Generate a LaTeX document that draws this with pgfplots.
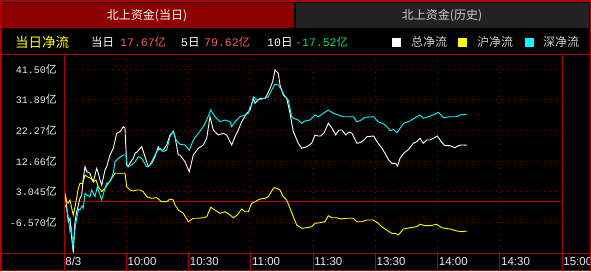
\documentclass[border=0pt]{standalone}
\usepackage{pgfplots}
\usepackage{pgfplotstable}
\pgfplotsset{compat=1.18}
\usepackage{fontspec}
\setmainfont{Liberation Sans}
\newfontfamily\cjk{Noto Sans CJK SC}
\newfontfamily\mono{Liberation Mono}
\definecolor{linered}{RGB}{176,0,0}
\definecolor{zerored}{RGB}{190,0,0}
\definecolor{gridred}{RGB}{150,0,0}
\definecolor{tabred}{RGB}{140,0,0}
\definecolor{tabgrey}{RGB}{34,34,34}
\definecolor{numred}{RGB}{255,90,90}
\definecolor{numgreen}{RGB}{0,230,100}
\definecolor{lgrey}{RGB}{205,205,205}
\definecolor{ylw}{RGB}{255,255,0}
\definecolor{cyn}{RGB}{0,255,255}

% minutes since 9:30 (lunch break removed), value in 100 million
\pgfplotstableread{
m v
0.63 2.04
2.07 -6.33
2.89 -5.26
3.71 -11.44
4.48 -16.0
5.30 -6.33
6.12 -3.20
7.71 1.00
8.53 2.04
9.30 7.27
10.12 10.91
10.94 9.34
12.53 8.84
13.35 7.27
14.12 6.20
15.76 10.40
16.53 8.84
17.35 6.74
18.17 5.17
19.76 9.87
20.58 10.91
22.17 14.57
23.76 16.67
25.40 21.37
26.99 21.87
28.58 23.44
29.40 22.94
30.22 11.44
30.99 10.91
31.81 12.07
33.40 13.54
34.22 15.10
35.18 15.51
37.45 17.17
39.04 14.04
40.63 10.91
42.27 11.97
43.86 14.04
45.45 17.17
46.27 16.14
47.86 16.14
49.49 17.71
51.08 20.84
52.67 21.87
53.49 20.31
55.08 14.57
55.90 14.57
58.31 12.47
60.39 9.34
62.31 14.57
64.72 16.67
67.13 17.71
68.77 19.81
70.36 26.57
71.95 22.41
74.36 20.84
76.77 21.37
78.41 20.84
80.82 17.71
82.41 20.31
84.00 22.41
85.64 25.01
88.05 27.64
89.64 28.67
91.23 32.34
92.05 30.77
94.46 32.34
96.87 32.34
97.83 33.38
99.28 35.47
100.58 37.54
101.69 41.21
103.28 40.18
104.10 36.51
105.69 33.38
107.33 32.34
108.92 27.64
110.51 21.87
112.92 18.24
114.55 16.67
116.96 17.17
119.37 18.24
120.96 20.84
122.41 20.53
123.71 20.53
125.30 21.47
127.37 24.51
129.16 23.03
130.94 20.84
132.53 22.41
133.98 22.41
135.76 20.84
137.35 21.78
138.80 21.37
141.20 18.24
142.65 18.43
144.58 19.27
146.02 20.31
149.25 20.53
150.84 18.74
153.25 16.67
154.70 15.10
156.48 13.01
158.07 11.97
159.66 11.97
160.82 11.13
161.93 13.54
163.71 15.10
166.12 16.36
168.34 18.24
169.98 18.74
171.57 19.81
173.16 18.24
174.80 19.27
176.39 19.27
177.98 19.81
179.90 20.53
182.02 18.55
183.61 17.49
186.02 17.49
188.43 16.86
190.02 17.49
191.66 17.71
194.07 17.67
}\totaltab

\pgfplotstableread{
m v
0.48 2.57
1.30 -0.06
2.07 -0.47
2.89 0.47
3.71 -2.13
4.48 -4.23
5.78 -0.06
6.89 4.14
7.71 5.70
9.01 5.70
10.12 8.30
11.23 7.77
12.87 7.27
14.12 6.20
15.42 6.74
16.53 4.64
18.17 3.07
19.76 4.14
21.35 5.70
22.99 7.27
24.58 8.84
26.99 8.84
29.40 8.84
30.22 4.64
31.81 3.60
33.40 3.29
35.04 3.60
36.63 3.60
38.22 3.07
39.86 1.50
42.27 1.00
44.67 1.19
47.08 -0.06
49.49 -0.06
51.08 0.78
52.67 0.47
53.49 -1.10
55.08 -2.66
57.49 -3.70
59.90 -6.33
62.31 -5.26
64.72 -5.26
67.13 -5.08
68.77 -4.76
70.70 -1.82
72.77 -2.66
75.18 -3.70
77.59 -3.20
80.00 -4.23
81.59 -5.08
83.52 -4.23
85.64 -2.35
87.23 -3.20
88.82 -3.20
90.46 -0.56
92.05 -0.06
94.46 0.78
96.87 1.00
98.46 1.50
100.87 4.14
101.69 4.32
104.10 3.60
105.69 1.50
107.33 0.47
108.92 -2.13
110.51 -4.76
112.15 -7.36
114.55 -8.40
116.96 -8.21
119.37 -7.90
120.96 -6.83
123.37 -6.64
125.78 -6.33
127.37 -4.45
129.01 -5.08
131.42 -5.08
133.83 -5.48
136.24 -5.26
139.42 -5.26
141.06 -6.33
143.47 -6.33
145.88 -5.80
149.06 -5.80
151.47 -6.83
153.11 -7.90
155.52 -8.93
157.93 -9.97
159.52 -9.97
161.11 -10.50
163.52 -8.62
166.75 -8.21
169.98 -7.90
171.57 -7.15
173.98 -7.58
176.39 -7.58
179.61 -7.15
182.02 -8.21
186.02 -8.62
189.25 -9.24
191.66 -9.46
194.07 -9.24
}\shtab

\pgfplotstableread{
m v
0.48 -1.10
1.45 -2.66
2.27 -5.80
2.89 -9.56
3.61 -8.30
4.19 -14.16
5.06 -9.56
6.12 -5.26
7.08 -2.35
7.71 -2.66
8.67 -1.41
9.30 -2.04
10.12 2.57
10.94 2.04
12.53 1.50
13.35 3.60
14.94 1.50
16.05 4.64
17.35 2.04
18.17 0.47
19.76 4.14
20.58 5.70
22.17 6.20
23.76 8.84
24.58 12.47
26.17 13.54
28.58 14.57
29.88 14.57
30.51 10.91
32.63 11.44
34.22 12.47
35.81 14.04
37.45 13.54
38.22 12.69
39.86 10.91
41.45 11.44
43.04 13.54
44.67 15.61
46.27 16.67
47.86 15.61
49.49 16.14
51.08 20.31
52.67 22.09
53.98 19.27
55.90 17.93
58.31 17.71
60.39 16.14
62.31 19.27
64.72 21.37
67.13 23.44
68.77 25.54
70.70 28.67
72.77 26.57
75.18 25.01
77.59 25.54
80.00 25.01
80.82 23.44
82.41 25.01
84.82 26.57
87.23 27.11
88.82 27.64
89.64 29.71
90.46 30.24
91.23 32.84
92.87 31.81
95.28 32.12
96.87 32.34
98.46 32.84
99.28 33.91
100.87 35.98
101.69 36.73
103.28 36.51
104.92 34.94
106.51 32.84
108.10 31.81
108.92 29.21
109.74 26.57
110.51 26.07
112.92 25.54
114.55 24.51
116.14 25.23
118.55 25.54
120.96 27.11
122.55 26.57
124.96 27.64
127.37 28.67
129.78 27.64
132.19 27.11
134.60 26.57
137.01 26.57
139.42 26.57
141.06 25.01
142.65 25.32
145.20 26.39
149.25 26.57
151.33 25.01
154.07 24.29
155.66 23.44
157.25 22.19
158.70 22.63
160.48 21.56
161.93 22.94
163.71 24.51
166.75 25.23
169.98 26.57
171.57 27.11
173.16 26.07
175.57 26.57
177.98 27.11
180.39 27.95
182.80 26.26
186.02 26.57
189.25 26.57
190.84 27.11
194.07 27.33
}\sztab

\begin{document}
\begin{tikzpicture}
\useasboundingbox (0,0) rectangle (591pt,-271pt);
\fill[black] (0,0) rectangle (591pt,-271pt);
% tabs
\fill[tabred] (2pt,-3pt) rectangle (294pt,-28pt);
\fill[tabgrey] (296pt,-3pt) rectangle (589pt,-28pt);
\node[text=white, inner sep=0pt, font=\cjk\fontsize{12}{14}\selectfont] at (147pt,-16pt) {北上资金(当日)};
\node[text=lgrey, inner sep=0pt, font=\cjk\fontsize{12}{14}\selectfont] at (442pt,-16pt) {北上资金(历史)};
% info row
\node[anchor=west, inner sep=0pt, text=ylw, font=\cjk\fontsize{13.5}{15}\selectfont] at (15pt,-42pt) {当日净流};
\node[anchor=west, inner sep=0pt, text=white, font=\cjk\fontsize{11.5}{14}\selectfont] at (91pt,-42pt) {当日};
\node[anchor=west, inner sep=0pt, text=numred] at (120pt,-42pt) {\mono\fontsize{11.5}{14}\selectfont 17.67{\cjk 亿}};
\node[anchor=west, inner sep=0pt, text=white] at (181pt,-42pt) {\mono\fontsize{11.5}{14}\selectfont 5{\cjk 日}};
\node[anchor=west, inner sep=0pt, text=numred] at (204pt,-42pt) {\mono\fontsize{11.5}{14}\selectfont 79.62{\cjk 亿}};
\node[anchor=west, inner sep=0pt, text=white] at (267pt,-42pt) {\mono\fontsize{11.5}{14}\selectfont 10{\cjk 日}};
\node[anchor=west, inner sep=0pt, text=numgreen] at (295pt,-42pt) {\mono\fontsize{11.5}{14}\selectfont -17.52{\cjk 亿}};
\fill[white] (392pt,-37.5pt) rectangle (401pt,-46.5pt);
\fill[ylw] (458pt,-37.5pt) rectangle (467pt,-46.5pt);
\fill[cyn] (525pt,-37.5pt) rectangle (534pt,-46.5pt);
\node[anchor=west, inner sep=0pt, text=lgrey, font=\cjk\fontsize{12}{14}\selectfont] at (411pt,-42pt) {总净流};
\node[anchor=west, inner sep=0pt, text=lgrey, font=\cjk\fontsize{12}{14}\selectfont] at (477pt,-42pt) {沪净流};
\node[anchor=west, inner sep=0pt, text=lgrey, font=\cjk\fontsize{12}{14}\selectfont] at (543pt,-42pt) {深净流};

\begin{axis}[
  at={(64pt,-253pt)}, anchor=south west,
  width=498pt, height=199pt, scale only axis,
  xmin=0, xmax=240, ymin=-16.14, ymax=46.22,
  axis line style={draw=none},
  major tick length=0pt,
  xtick={0,30,60,90,120,150,180,210,240},
  xticklabels={8/3,10:00,10:30,11:00,11:30,13:30,14:00,14:30,15:00},
  ytick={-6.57,3.045,12.66,22.27,31.89,41.50},
  yticklabels={{-6.570{\cjk\fontsize{11}{12}\selectfont 亿}},{3.045{\cjk\fontsize{11}{12}\selectfont 亿}},{12.66{\cjk\fontsize{11}{12}\selectfont 亿}},{22.27{\cjk\fontsize{11}{12}\selectfont 亿}},{31.89{\cjk\fontsize{11}{12}\selectfont 亿}},{41.50{\cjk\fontsize{11}{12}\selectfont 亿}}},
  xticklabel style={anchor=north west, inner sep=0pt, xshift=1.2pt, yshift=-4pt, text=white!92!black, font=\fontsize{11.5}{14}\selectfont},
  yticklabel style={anchor=east, inner sep=0pt, xshift=-7pt, text=white!92!black, font=\mono\fontsize{10}{12}\selectfont},
  grid=major,
  grid style={gridred, line width=0.8pt, dash pattern=on 0.8pt off 5.2pt},
]
\addplot[draw=zerored, line width=1.3pt, forget plot] coordinates {(0,0) (240,0)};
\addplot[white, line width=0.9pt] table[x=m, y=v] {\totaltab};
\addplot[ylw, line width=0.9pt] table[x=m, y=v] {\shtab};
\addplot[cyn, line width=0.9pt] table[x=m, y=v] {\sztab};
\end{axis}

% frame lines
\draw[linered, line width=1pt] (0,-54pt) -- (591pt,-54pt);
\draw[linered, line width=1pt] (0,-253pt) -- (591pt,-253pt);
\draw[linered, line width=1pt] (64pt,-54pt) -- (64pt,-271pt);
\draw[linered, line width=1pt] (562pt,-54pt) -- (562pt,-271pt);
\foreach \xx in {126.25,188.5,250.75,313,375.25,437.5,499.75}
  \draw[linered, line width=1pt] (\xx pt,-253pt) -- (\xx pt,-271pt);
\draw[linered, line width=1.5pt] (0.75pt,-0.75pt) rectangle (590.25pt,-270.25pt);
\end{tikzpicture}
\end{document}
